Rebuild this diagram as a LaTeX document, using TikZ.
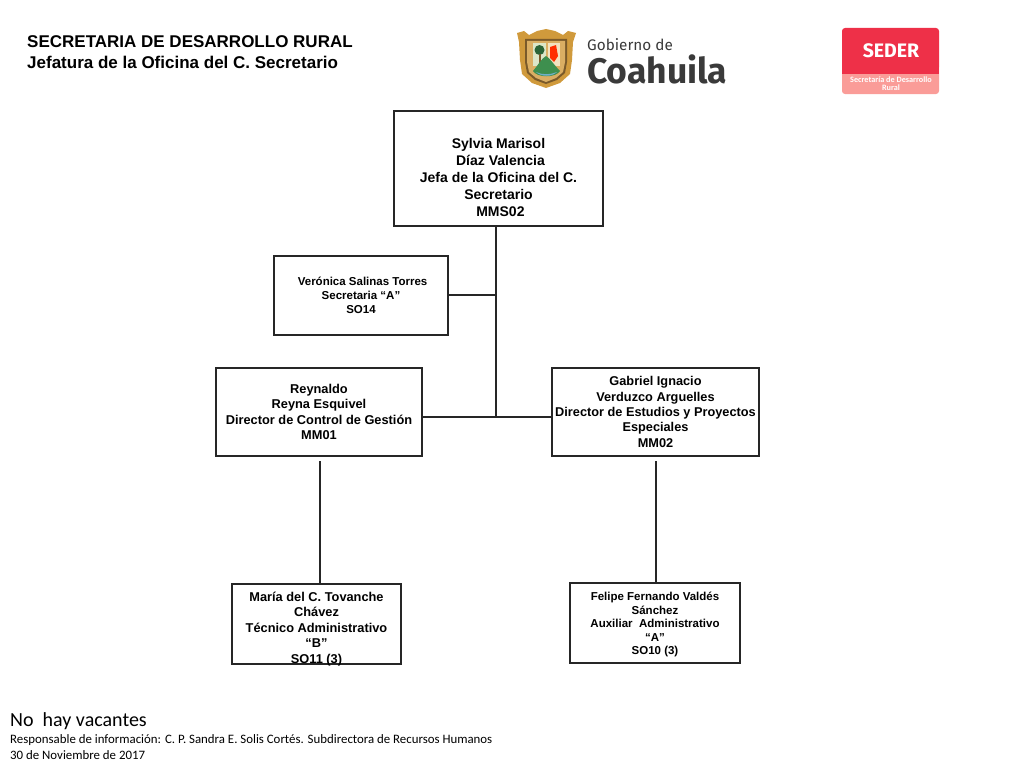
\documentclass[tikz,border=0pt]{standalone}
\usepackage{fontspec}
\setmainfont{Liberation Sans}
\newfontfamily\footfont{Carlito}
\newfontfamily\logofont{Fira Sans}
\definecolor{sederred}{HTML}{EE3048}
\definecolor{sederpink}{HTML}{FA9C98}
\definecolor{shieldgold}{HTML}{D09A3C}
\definecolor{shieldbrown}{HTML}{7A5A2A}
\definecolor{shieldgreen}{HTML}{3E8F4E}
\definecolor{shieldpale}{HTML}{DCE6C8}
\definecolor{shieldcream}{HTML}{F2E2C0}
\definecolor{shieldblue}{HTML}{6FB0C8}
\definecolor{logogray}{HTML}{3A3A3A}
\begin{document}
\begin{tikzpicture}[x=1pt,y=-1pt,
  orgbox/.style = {shape=rectangle, draw=black!85, line width=1.2pt, inner sep=0pt,
    align=center, font=\bfseries},
  link/.style = {draw=black!85, line width=1.15pt},
  titletext/.style = {anchor=west, align=left, inner sep=0pt, font=\bfseries\fontsize{17}{21}\selectfont},
  foottext/.style = {anchor=west, inner sep=0pt, font=\footfont\fontsize{12.85}{15}\selectfont}]
  \useasboundingbox (0,0) rectangle (1024,768);

  \node[titletext] (title) at (27,52.5) {SECRETARIA DE DESARROLLO RURAL\\Jefatura de la Oficina del C. Secretario};

  \node[orgbox, minimum width=209pt, minimum height=115pt, font=\bfseries\fontsize{14}{17}\selectfont] (jefa) at (498.5,168.5)
    {\mbox{}\\[11pt]Sylvia Marisol\\~Díaz Valencia\\Jefa de la Oficina del C.\\Secretario\\~MMS02};
  \node[orgbox, minimum width=174pt, minimum height=79pt, font=\bfseries\fontsize{11.5}{14}\selectfont] (secretaria) at (361,295.5)
    {~Verónica Salinas Torres\\Secretaria “A”\\SO14};
  \node[orgbox, minimum width=206pt, minimum height=88pt, font=\bfseries\fontsize{12.8}{15.4}\selectfont] (control) at (319,412)
    {Reynaldo\\Reyna Esquivel\\Director de Control de Gestión\\MM01};
  \node[orgbox, minimum width=207pt, minimum height=88pt, font=\bfseries\fontsize{12.75}{15.4}\selectfont] (estudios) at (655.5,412)
    {Gabriel Ignacio\\Verduzco Arguelles\\Director de Estudios y Proyectos\\Especiales\\MM02};
  \node[orgbox, minimum width=169pt, minimum height=80pt, text height=78pt, text depth=0pt, font=\bfseries\fontsize{12.8}{15.4}\selectfont] (tecnico) at (316.5,624)
    {María del C. Tovanche\\Chávez\\Técnico Administrativo\\“B”\\SO11 (3)};
  \node[orgbox, minimum width=170pt, minimum height=80pt, font=\bfseries\fontsize{11.5}{13.6}\selectfont] (auxiliar) at (655,623)
    {\mbox{}\\[-2pt]Felipe Fernando Valdés\\Sánchez\\Auxiliar~~Administrativo\\“A”\\SO10 (3)};

  \coordinate (trunk1) at (496,295);
  \coordinate (trunk2) at (496,417);
  \coordinate (stub1) at (320,461);
  \coordinate (stub2) at (656,461);
  \draw[link] (jefa.south -| trunk1) -- (trunk2);
  \draw[link] (secretaria.east |- trunk1) -- (trunk1);
  \draw[link] (control.east |- trunk2) -- (estudios.west |- trunk2);
  \draw[link] (stub1) -- (stub1 |- tecnico.north);
  \draw[link] (stub2) -- (stub2 |- auxiliar.north);

  \node[anchor=west, inner sep=0pt, font=\footfont\fontsize{20}{22}\selectfont] (vacantes) at (10,721) {No~~hay vacantes};
  \node[foottext] (responsable) at (10,740) {Responsable de información: C. P. Sandra E. Solis Cortés. Subdirectora de Recursos Humanos};
  \node[foottext] (fecha) at (10,755) {30 de Noviembre de 2017};

  \fill[shieldgold] (517,33) -- (524,31) -- (529,35) -- (537,31) -- (546,29) -- (555,31) -- (563,35) -- (568,31) -- (576,33) -- (573,42) -- (572,60) -- (570,74) -- (560,83) -- (546,88) -- (532,83) -- (522,74) -- (520,60) -- (519,42) -- cycle;
  \fill[shieldbrown] (525,39) -- (567,39) -- (567,62) -- (565,73) -- (557,80) -- (546,84) -- (535,80) -- (527,73) -- (525,62) -- cycle;
  \fill[shieldgold!80!white] (527,41) -- (565,41) -- (565,62) -- (563,72) -- (556,78) -- (546,82) -- (536,78) -- (529,72) -- (527,62) -- cycle;
  \fill[shieldpale] (533,43) rectangle (546,66);
  \fill[shieldcream] (548,43) rectangle (560,66);
  \fill[shieldgreen!70!black] (539.5,50) circle (5pt);
  \fill[shieldbrown] (538.5,54) rectangle (540.5,64);
  \fill[red!65!orange] (550,47) -- (556,45) -- (558,56) -- (554,62) -- (550,58) -- cycle;
  \fill[shieldgreen] (533,71) .. controls (538,65) and (542,58) .. (546,56) .. controls (550,58) and (554,65) .. (560,71) .. controls (556,78) and (537,78) .. (533,71) -- cycle;
  \fill[shieldblue] (536,72) .. controls (542,75) and (550,75) .. (557,72) .. controls (552,77) and (541,77) .. (536,72) -- cycle;

  \node[anchor=west, inner sep=0pt, text=logogray, font=\logofont\fontsize{15.3}{18}\selectfont] (gobierno) at (587,45) {Gobierno de};
  \node[anchor=west, inner sep=0pt, text=logogray, font=\logofont\bfseries\fontsize{35.5}{40}\selectfont] (coahuila) at (587,69) {Coahuila};

  \fill[sederpink, rounded corners=3pt] (842,64) rectangle (939,94);
  \fill[sederred, rounded corners=3pt] (842,28) rectangle (939,70);
  \fill[sederred] (842,66) rectangle (939,74);
  \node[inner sep=0pt, text=white, font=\logofont\bfseries\fontsize{19.5}{20}\selectfont] (seder) at (891,50.5) {SEDER};
  \node[inner sep=0pt, align=center, text=white, font=\footfont\bfseries\fontsize{8.2}{8.5}\selectfont] (sedername) at (891,83.5) {Secretaría de Desarrollo\\Rural};
\end{tikzpicture}
\end{document}
